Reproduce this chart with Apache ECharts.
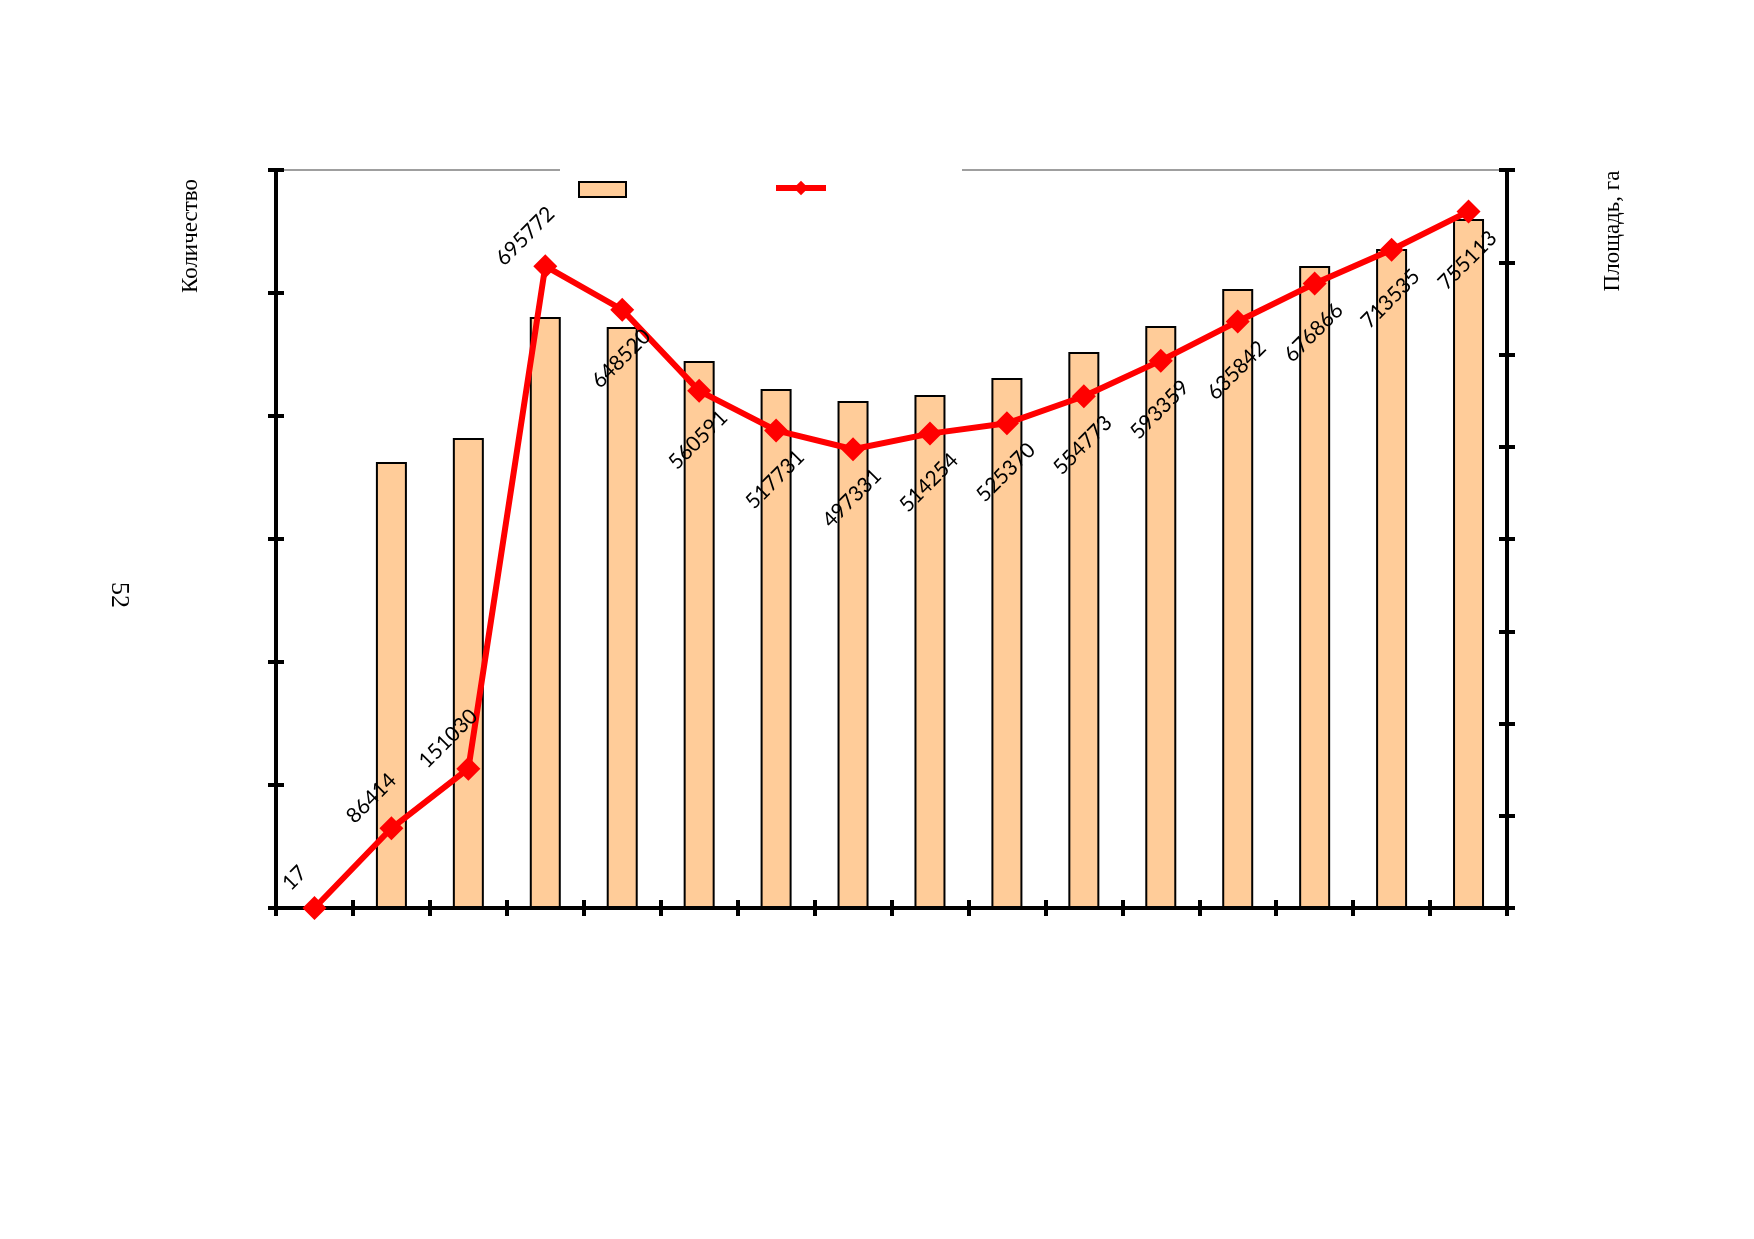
<!DOCTYPE html>
<html><head><meta charset="utf-8">
<script src="https://cdn.jsdelivr.net/npm/echarts@6/dist/echarts.min.js"></script>
<style>html,body{margin:0;padding:0;background:#fff}#c{width:1754px;height:1239px}</style>
</head><body><div id="c"></div>
<script>
// ---- data ----
const categories = ['1','2','3','4','5','6','7','8','9','10','11','12','13','14','15','16'];
const countValues = [0, 36260, 38210, 48050, 47240, 44470, 42200, 41220, 41710, 43090, 45200, 47320, 50330, 52190, 53580, 56020];
const areaValues = [17, 86414, 151030, 695772, 648520, 560591, 517731, 497331, 514254, 525370, 554773, 593359, 635842, 676866, 713535, 755113];
const countName = 'Количество';
const areaName = 'Площадь, га';
const pageNumber = '52';

// ---- styling ----
const chart = echarts.init(document.getElementById('c'), null, {renderer: 'canvas'});
const gridBox = {left: 276, right: 247, top: 170, bottom: 331};
const axisLineStyle = {color: '#000', width: 4};
const tickStyle = {color: '#000', width: 4};
const labelFont = {fontFamily: 'Lato', fontSize: 21, color: '#000'};

function catAxis(gridIndex, inside, showLine) {
  return {
    type: 'category', gridIndex: gridIndex, data: categories, boundaryGap: true,
    axisLine: {show: showLine, lineStyle: axisLineStyle},
    axisTick: {show: true, inside: inside, length: 8, lineStyle: tickStyle},
    axisLabel: {show: false}, splitLine: {show: false}
  };
}
function valAxis(gridIndex, pos, max, interval, inside, showLine) {
  return {
    type: 'value', gridIndex: gridIndex, position: pos, min: 0, max: max, interval: interval,
    axisLine: {show: showLine, lineStyle: axisLineStyle},
    axisTick: {show: true, inside: inside, length: 8, lineStyle: tickStyle},
    axisLabel: {show: false}, splitLine: {show: false}
  };
}

const labelAbove = Object.assign({show: true, rotate: 45, align: 'center', verticalAlign: 'middle', position: [-8, -18]}, labelFont);
const labelBelow = Object.assign({show: true, rotate: 45, align: 'center', verticalAlign: 'middle', position: [11, 61]}, labelFont);

const option = {
  backgroundColor: '#fff',
  animation: false,
  grid: [
    Object.assign({show: true, borderColor: '#808080', borderWidth: 1.5, backgroundColor: 'transparent', containLabel: false, outerBoundsMode: 'none'}, gridBox),
    Object.assign({show: false, containLabel: false, outerBoundsMode: 'none'}, gridBox)
  ],
  xAxis: [catAxis(0, false, true), catAxis(1, true, false)],
  yAxis: [
    valAxis(0, 'left', 60000, 10000, false, true),
    valAxis(0, 'right', 800000, 100000, false, true),
    valAxis(1, 'left', 60000, 10000, true, false),
    valAxis(1, 'right', 800000, 100000, true, false)
  ],
  legend: [
    {
      data: [{name: countName, icon: 'rect'}], left: 560, top: 162,
      padding: [19, 150, 10, 18], itemWidth: 47, itemHeight: 15,
      formatter: function () { return ''; }, backgroundColor: '#fff', selectedMode: false
    },
    {
      data: [{name: areaName}], left: 760, top: 162,
      padding: [17, 133, 10, 13], itemWidth: 50, itemHeight: 18,
      lineStyle: {width: 6},
      formatter: function () { return ''; }, backgroundColor: '#fff', selectedMode: false
    }
  ],
  series: [
    {
      name: countName, type: 'bar', xAxisIndex: 0, yAxisIndex: 0, data: countValues,
      barWidth: 31, z: 2,
      itemStyle: {color: '#FFCC99', borderColor: '#000', borderWidth: 2}
    },
    {
      name: areaName, type: 'line', xAxisIndex: 0, yAxisIndex: 1, z: 5,
      data: areaValues.map(function (v, i) { return {value: v, label: i < 4 ? labelAbove : labelBelow}; }),
      symbol: 'diamond', symbolSize: 24,
      lineStyle: {color: '#FF0000', width: 6},
      itemStyle: {color: '#FF0000'}
    }
  ],
  graphic: [
    {type: 'text', x: 119, y: 595, rotation: -Math.PI / 2,
     style: {text: pageNumber, font: '26px "Liberation Serif"', fill: '#000', align: 'center', verticalAlign: 'middle'}},
    {type: 'text', x: 191, y: 236, rotation: Math.PI / 2,
     style: {text: countName, font: '23px "Liberation Serif"', fill: '#000', align: 'center', verticalAlign: 'middle'}},
    {type: 'text', x: 1613, y: 231, rotation: Math.PI / 2,
     style: {text: areaName, font: '23px "Liberation Serif"', fill: '#000', align: 'center', verticalAlign: 'middle'}}
  ]
};
chart.setOption(option);
</script>
</body></html>
